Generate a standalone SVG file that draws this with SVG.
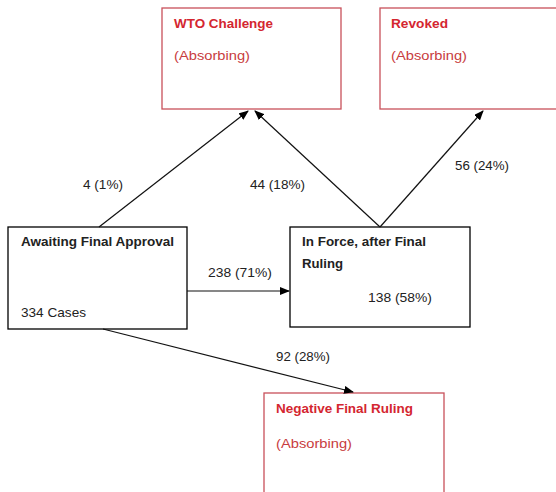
<svg xmlns="http://www.w3.org/2000/svg" width="556" height="492" viewBox="0 0 556 492">
<defs>
<marker id="arr" markerWidth="10" markerHeight="8" refX="9" refY="4" orient="auto" markerUnits="userSpaceOnUse">
<path d="M0,0 L10,4 L0,8 Z" fill="#000"/>
</marker>
<style>
.box{fill:#fff;stroke:#000;stroke-width:1.3}
.rbox{fill:#fff;stroke:#c8505a;stroke-width:1.3}
text{font-family:"Liberation Sans",Arial,sans-serif;font-size:13.5px;fill:#222}
.b{font-weight:bold}
.rt{fill:#d42630;font-weight:bold}
.ra{fill:#c83c40}
.edge{stroke:#111;stroke-width:1.2;fill:none;marker-end:url(#arr)}
</style>
</defs>
<rect width="556" height="492" fill="#fff"/>
<g id="wto">
<rect class="rbox" x="162" y="8" width="179" height="101"/>
<text class="rt" x="174" y="28" textLength="99" lengthAdjust="spacingAndGlyphs">WTO Challenge</text>
<text class="ra" x="174" y="60" textLength="76" lengthAdjust="spacingAndGlyphs">(Absorbing)</text>
</g>
<g id="revoked">
<rect class="rbox" x="380" y="8" width="200" height="101"/>
<text class="rt" x="391" y="28" textLength="57" lengthAdjust="spacingAndGlyphs">Revoked</text>
<text class="ra" x="391" y="60" textLength="76" lengthAdjust="spacingAndGlyphs">(Absorbing)</text>
</g>
<g id="awaiting">
<rect class="box" x="8" y="227" width="179" height="102"/>
<text class="b" x="21" y="246" textLength="153" lengthAdjust="spacingAndGlyphs">Awaiting Final Approval</text>
<text x="21" y="317" textLength="65" lengthAdjust="spacingAndGlyphs">334 Cases</text>
</g>
<g id="inforce">
<rect class="box" x="290" y="227" width="180" height="100"/>
<text class="b" x="302" y="246" textLength="124" lengthAdjust="spacingAndGlyphs">In Force, after Final</text>
<text class="b" x="302" y="268" textLength="41" lengthAdjust="spacingAndGlyphs">Ruling</text>
<text x="368" y="302" textLength="64" lengthAdjust="spacingAndGlyphs">138 (58%)</text>
</g>
<g id="negative">
<rect class="rbox" x="264" y="393" width="180" height="110"/>
<text class="rt" x="276" y="413" textLength="137" lengthAdjust="spacingAndGlyphs">Negative Final Ruling</text>
<text class="ra" x="276" y="448" textLength="76" lengthAdjust="spacingAndGlyphs">(Absorbing)</text>
</g>
<g id="connectors">
<line class="edge" x1="99" y1="227" x2="248" y2="111"/>
<line class="edge" x1="380" y1="227" x2="255" y2="111"/>
<line class="edge" x1="380" y1="227" x2="483" y2="111"/>
<line class="edge" x1="187" y1="291" x2="289" y2="291"/>
<line class="edge" x1="103" y1="329" x2="353" y2="392"/>
<text x="83" y="189" textLength="40" lengthAdjust="spacingAndGlyphs">4 (1%)</text>
<text x="250" y="189" textLength="55" lengthAdjust="spacingAndGlyphs">44 (18%)</text>
<text x="455" y="170" textLength="54" lengthAdjust="spacingAndGlyphs">56 (24%)</text>
<text x="208" y="277" textLength="64" lengthAdjust="spacingAndGlyphs">238 (71%)</text>
<text x="276" y="361" textLength="54" lengthAdjust="spacingAndGlyphs">92 (28%)</text>
</g>
</svg>
